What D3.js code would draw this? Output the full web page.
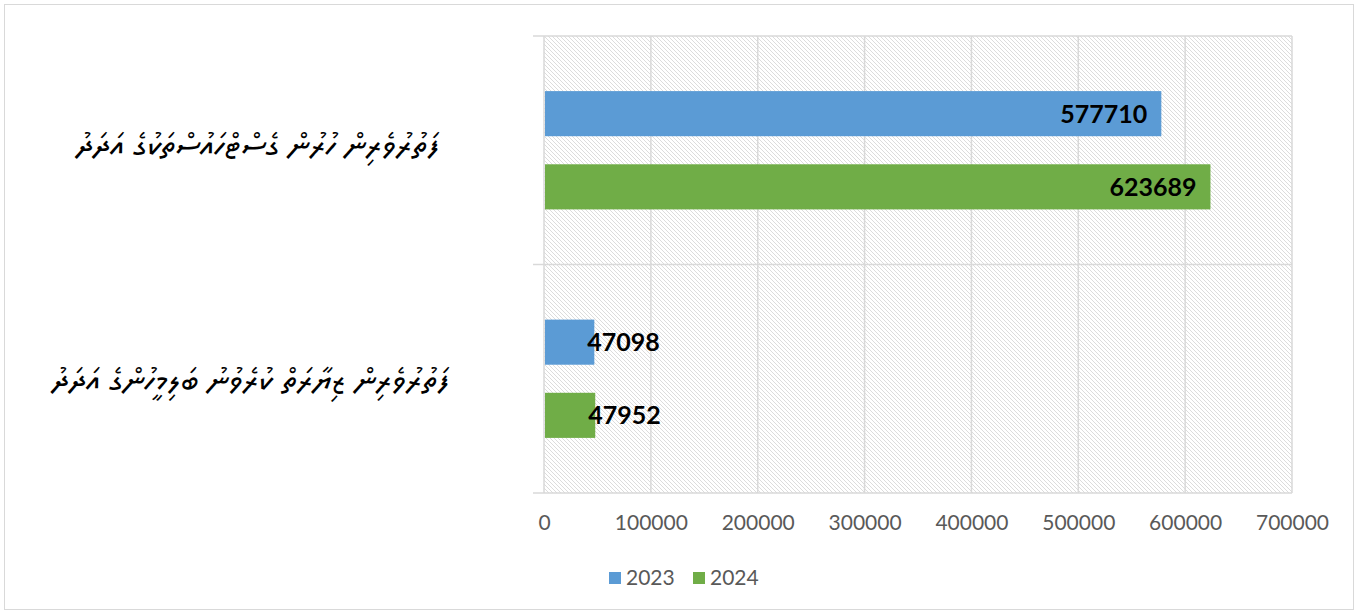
<!DOCTYPE html>
<html>
<head>
<meta charset="utf-8">
<script src="https://cdn.jsdelivr.net/npm/d3@7"></script>
<style>
  body { margin: 0; background: #fff; }
  svg { display: block; }
</style>
</head>
<body>
<svg id="chart"></svg>
<script>
// chart data
const categories = [
  'ފަތުރުވެރިން ހުރުން ގެސްޓްހައުސްތަކުގެ އަދަދު',
  'ފަތުރުވެރިން ޒިޔާރަތް ކުރެވުނު ބަލިމީހުންގެ އަދަދު'
];
const seriesNames = ['2023', '2024'];
const values2023 = [577710, 47098];
const values2024 = [623689, 47952];
const xTicks = [0, 100000, 200000, 300000, 400000, 500000, 600000, 700000];
const colors = ['#5B9BD5', '#70AD47'];

const W = 1358, H = 614;
const plot = { left: 544, right: 1292, top: 36, bottom: 493 };

const svg = d3.select('#chart').attr('width', W).attr('height', H);

// outer frame
svg.append('rect')
  .attr('x', 4.5).attr('y', 4.5)
  .attr('width', W - 9).attr('height', H - 9)
  .attr('fill', '#fff')
  .attr('stroke', '#d9d9d9');

// hatched plot background
const defs = svg.append('defs');
const pat = defs.append('pattern')
  .attr('id', 'hatch')
  .attr('patternUnits', 'userSpaceOnUse')
  .attr('width', 4).attr('height', 4);
pat.append('path')
  .attr('d', 'M-1,-1 L5,5 M-1,3 L1,5 M3,-1 L5,1')
  .attr('stroke', '#dcdcdc')
  .attr('stroke-width', 1);

const x = d3.scaleLinear()
  .domain([0, 700000])
  .range([plot.left, plot.right]);

const y = d3.scaleBand()
  .domain(categories)
  .range([plot.top, plot.bottom]);

const ySub = d3.scaleBand()
  .domain(seriesNames)
  .range([0, y.bandwidth()])
  .paddingInner(0.3836)
  .paddingOuter(0.753);

svg.append('rect')
  .attr('x', plot.left).attr('y', plot.top)
  .attr('width', plot.right - plot.left)
  .attr('height', plot.bottom - plot.top)
  .attr('fill', 'url(#hatch)');

// vertical gridlines
svg.append('g')
  .selectAll('line')
  .data(xTicks.slice(1))
  .enter()
  .append('line')
  .attr('x1', d => x(d)).attr('x2', d => x(d))
  .attr('y1', plot.top).attr('y2', plot.bottom)
  .attr('stroke', '#d9d9d9')
  .attr('stroke-width', 1.5);

// category boundaries with ticks out to the left
const bounds = [plot.top, plot.top + y.bandwidth(), plot.bottom];
svg.append('g')
  .selectAll('line')
  .data(bounds)
  .enter()
  .append('line')
  .attr('x1', plot.left - 11).attr('x2', plot.right)
  .attr('y1', d => d).attr('y2', d => d)
  .attr('stroke', '#d9d9d9')
  .attr('stroke-width', 1.5);

// vertical axis line
svg.append('line')
  .attr('x1', plot.left).attr('x2', plot.left)
  .attr('y1', plot.top).attr('y2', plot.bottom)
  .attr('stroke', '#d9d9d9')
  .attr('stroke-width', 1.5);

// x axis labels
const xAxis = d3.axisBottom(x)
  .tickValues(xTicks)
  .tickFormat(d3.format('d'))
  .tickSize(0)
  .tickPadding(22);

const gx = svg.append('g')
  .attr('transform', `translate(0,${plot.bottom})`)
  .call(xAxis);
gx.select('.domain').remove();
gx.selectAll('text')
  .attr('fill', '#595959')
  .style('font-family', 'Lato, Calibri, sans-serif')
  .style('font-size', '21px');

// bars
const rows = categories.map((c, i) => ({
  cat: c,
  vals: [values2023[i], values2024[i]]
}));

const groups = svg.append('g')
  .selectAll('g')
  .data(rows)
  .enter()
  .append('g')
  .attr('transform', d => `translate(0,${y(d.cat)})`);

const bars = groups.selectAll('g')
  .data(d => d.vals.map((v, j) => ({ v: v, s: seriesNames[j], j: j })))
  .enter()
  .append('g');

bars.append('rect')
  .attr('x', x(0) + 1)
  .attr('y', d => ySub(d.s))
  .attr('width', d => x(d.v) - x(0) - 1)
  .attr('height', ySub.bandwidth())
  .attr('fill', d => colors[d.j]);

bars.append('text')
  .attr('x', d => {
    const w = x(d.v) - x(0);
    return w > 150 ? x(d.v) - 14 : x(d.v) - 7;
  })
  .attr('text-anchor', d => (x(d.v) - x(0) > 150 ? 'end' : 'start'))
  .attr('y', d => ySub(d.s) + ySub.bandwidth() / 2)
  .attr('dy', '0.36em')
  .attr('fill', '#000')
  .style('font-family', 'Lato, Calibri, sans-serif')
  .style('font-weight', 'bold')
  .style('font-size', '25px')
  .text(d => d.v);

// category labels (Thaana, right to left)
svg.append('g')
  .selectAll('text')
  .data(categories)
  .enter()
  .append('text')
  .attr('x', (d, i) => (i === 0 ? 440 : 450))
  .attr('y', (d, i) => y(d) + y.bandwidth() / 2 + (i === 0 ? -6 : 1))
  .attr('dy', '0.35em')
  .attr('direction', 'rtl')
  .attr('text-anchor', 'start')
  .attr('fill', '#000')
  .style('font-family', '"MV Boli", "Noto Sans Thaana", "DejaVu Sans", sans-serif')
  .style('font-size', '33px')
  .text(d => d);

// legend
const legend = svg.append('g')
  .attr('transform', 'translate(609,578)');
const li = legend.selectAll('g')
  .data(seriesNames)
  .enter()
  .append('g')
  .attr('transform', (d, i) => `translate(${i * 84},0)`);
li.append('rect')
  .attr('x', 0).attr('y', -6)
  .attr('width', 12).attr('height', 12)
  .attr('fill', (d, i) => colors[i]);
li.append('text')
  .attr('x', 17).attr('y', 0)
  .attr('dy', '0.35em')
  .attr('fill', '#595959')
  .style('font-family', 'Lato, Calibri, sans-serif')
  .style('font-size', '21px')
  .text(d => d);
</script>
</body>
</html>
